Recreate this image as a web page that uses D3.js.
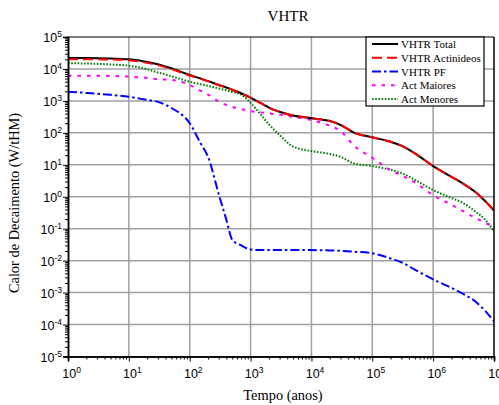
<!DOCTYPE html>
<html>
<head>
<meta charset="utf-8">
<script src="https://cdn.jsdelivr.net/npm/d3@7"></script>
<style>
  html, body { margin: 0; padding: 0; background: #fff; }
  svg { display: block; font-family: "Liberation Serif", "Times New Roman", serif; }
</style>
</head>
<body>
<svg id="chart" width="499" height="405"></svg>
<script>
// ---- Data ----
const times = [1, 2, 5, 10, 20, 30, 50, 100, 150, 200, 300, 400, 500, 700, 1000, 1500, 2000, 3000, 5000,
  1e4, 2e4, 3e4, 5e4, 1e5, 2e5, 3e5, 5e5, 1e6, 2e6, 3e6, 5e6, 7e6, 1e7];

const vhtrTotal = [21900, 21900, 21400, 20000, 16600, 14100, 10500, 6460, 5010, 4170, 3160, 2630, 2240, 1740, 1260,
  832, 617, 457, 347, 288, 234, 178, 102, 72.4, 52.5, 39.8, 22.9, 9.12, 4.17, 2.69, 1.38, 0.76, 0.37];

const vhtrActinideos = [20000, 20000, 19800, 18700, 15500, 13200, 9900, 6260, 4960, 4150, 3160, 2630, 2240, 1740, 1260,
  832, 617, 457, 347, 288, 234, 178, 102, 72.4, 52.5, 39.8, 22.9, 9.12, 4.17, 2.69, 1.38, 0.76, 0.37];

const vhtrPF = [1950, 1780, 1550, 1350, 1070, 933, 600, 200, 48, 17.8, 1.2, 0.19, 0.045, 0.030, 0.0224,
  0.0214, 0.0214, 0.0214, 0.0214, 0.0214, 0.0209, 0.0204, 0.0191, 0.0170, 0.0117, 0.0089, 0.0052, 0.0026,
  0.0014, 0.00095, 0.00052, 0.00028, 0.000126];

const actMaiores = [6170, 6170, 6030, 5750, 5250, 4790, 4570, 3160, 2090, 1580, 955, 741, 646, 550, 479,
  437, 407, 372, 316, 251, 166, 115, 39.8, 16.6, 6.76, 4.68, 2.82, 1.12, 0.56, 0.37, 0.214, 0.158, 0.107];

const actMenores = [15100, 14800, 13800, 12600, 9770, 7760, 5890, 3980, 3310, 2950, 2450, 2140, 1910, 1580, 870,
  355, 186, 85.1, 37.2, 26.9, 21.9, 17.8, 11.0, 9.12, 6.92, 5.50, 3.39, 1.62, 0.91, 0.66, 0.339, 0.20, 0.083];

const seriesNames = ["VHTR Total", "VHTR Actinideos", "VHTR PF", "Act Maiores", "Act Menores"];
const seriesValues = [vhtrTotal, vhtrActinideos, vhtrPF, actMaiores, actMenores];

const xDecades = [1, 10, 100, 1e3, 1e4, 1e5, 1e6, 1e7];
const yDecades = [1e-5, 1e-4, 1e-3, 1e-2, 1e-1, 1, 10, 100, 1e3, 1e4, 1e5];

const titleText = "VHTR";
const xLabel = "Tempo (anos)";
const yLabel = "Calor de Decaimento (W/tHM)";

// ---- Styles ----
const styles = {
  "VHTR Total":      { color: "#000000", dash: null },
  "VHTR Actinideos": { color: "#ff0000", dash: "10,5" },
  "VHTR PF":         { color: "#0000ff", dash: "9,3,2.5,3" },
  "Act Maiores":     { color: "#ff00ff", dash: "3.5,6" },
  "Act Menores":     { color: "#008000", dash: "1.6,1.6" }
};

// ---- Layout ----
const L = 68, R = 494, T = 37, B = 356.5;
const svg = d3.select("#chart");

const x = d3.scaleLog().domain([1, 1e7]).range([L, R]);
const y = d3.scaleLog().domain([1e-5, 1e5]).range([B, T]);

svg.append("defs").append("clipPath").attr("id", "clip")
  .append("rect").attr("x", L).attr("y", T).attr("width", R - L).attr("height", B - T);

// Grid
const grid = svg.append("g").attr("stroke", "#a0a0a0").attr("stroke-width", 1.5);
grid.selectAll("line.gx").data(xDecades.slice(1, -1)).join("line")
  .attr("x1", d => x(d)).attr("x2", d => x(d)).attr("y1", T).attr("y2", B);
grid.selectAll("line.gy").data(yDecades.slice(1, -1)).join("line")
  .attr("y1", d => y(d)).attr("y2", d => y(d)).attr("x1", L).attr("x2", R);

// Minor tick values
function minors(decades) {
  const out = [];
  for (let i = 0; i < decades.length - 1; i++)
    for (let k = 2; k <= 9; k++) out.push(decades[i] * k);
  return out;
}

// Lines
const line = d3.line().x(d => x(d[0])).y(d => y(d[1])).curve(d3.curveMonotoneX);
const lineG = svg.append("g").attr("clip-path", "url(#clip)");
const drawOrder = ["Act Menores", "Act Maiores", "VHTR PF", "VHTR Total", "VHTR Actinideos"];
drawOrder.forEach(name => {
  const vals = seriesValues[seriesNames.indexOf(name)];
  const st = styles[name];
  lineG.append("path")
    .datum(times.map((t, i) => [t, vals[i]]))
    .attr("d", line)
    .attr("fill", "none")
    .attr("stroke", st.color)
    .attr("stroke-width", 2)
    .attr("stroke-dasharray", st.dash);
});

// Frame top/right
svg.append("line").attr("x1", L).attr("x2", R).attr("y1", T).attr("y2", T).attr("stroke", "#000").attr("stroke-width", 1.2);
svg.append("line").attr("x1", R).attr("x2", R).attr("y1", T).attr("y2", B).attr("stroke", "#000").attr("stroke-width", 1.5);

// Axes
function styleAxis(g) {
  g.select(".domain").attr("stroke", "#000").attr("stroke-width", 1.5);
  g.selectAll(".tick line").attr("stroke", "#000").attr("stroke-width", 1);
}
const xMinor = svg.append("g").attr("transform", `translate(0,${B})`)
  .call(d3.axisBottom(x).tickValues(minors(xDecades)).tickSize(3).tickFormat(""));
styleAxis(xMinor);
const yMinor = svg.append("g").attr("transform", `translate(${L},0)`)
  .call(d3.axisLeft(y).tickValues(minors(yDecades)).tickSize(3).tickFormat(""));
styleAxis(yMinor);

const xAxis = svg.append("g").attr("transform", `translate(0,${B})`)
  .call(d3.axisBottom(x).tickValues(xDecades).tickSize(5).tickFormat(""));
styleAxis(xAxis);
const yAxis = svg.append("g").attr("transform", `translate(${L},0)`)
  .call(d3.axisLeft(y).tickValues(yDecades).tickSize(5).tickFormat(""));
styleAxis(yAxis);

// Tick labels (10 with superscript exponent)
const fs = 12.5, sfs = 8.5;
xAxis.selectAll(".tick").append("text")
  .attr("x", -fs / 2).attr("y", 21).attr("fill", "#000")
  .attr("text-anchor", "start").style("font-size", fs + "px")
  .each(function (d) {
    const t = d3.select(this);
    t.append("tspan").text("10");
    t.append("tspan").attr("dy", -5).style("font-size", sfs + "px").text(Math.round(Math.log10(d)));
  });
yAxis.selectAll(".tick").append("text")
  .attr("x", -6).attr("y", 4.5).attr("fill", "#000")
  .attr("text-anchor", "end").style("font-size", fs + "px")
  .each(function (d) {
    const t = d3.select(this);
    t.append("tspan").text("10");
    t.append("tspan").attr("dy", -5).style("font-size", sfs + "px").text(Math.round(Math.log10(d)));
  });

// Titles
svg.append("text").attr("x", 288).attr("y", 20.5).attr("text-anchor", "middle")
  .style("font-size", "15px").text(titleText);
svg.append("text").attr("x", 283).attr("y", 400).attr("text-anchor", "middle")
  .style("font-size", "14.4px").text(xLabel);
svg.append("text").attr("transform", "translate(18.5,203) rotate(-90)").attr("text-anchor", "middle")
  .style("font-size", "14.4px").text(yLabel);

// Legend
const lg = svg.append("g");
lg.append("rect").attr("x", 366).attr("y", 37).attr("width", 118).attr("height", 69)
  .attr("fill", "#fff").attr("stroke", "#000").attr("stroke-width", 1.2);
const rowY = d3.scalePoint().domain(seriesNames).range([44, 99]);
seriesNames.forEach(name => {
  const st = styles[name];
  const yy = rowY(name);
  lg.append("line").attr("x1", 372).attr("x2", 398).attr("y1", yy).attr("y2", yy)
    .attr("stroke", st.color).attr("stroke-width", 2).attr("stroke-dasharray", st.dash);
  lg.append("text").attr("x", 401).attr("y", yy + 4).style("font-size", "11px").text(name);
});
</script>
</body>
</html>
